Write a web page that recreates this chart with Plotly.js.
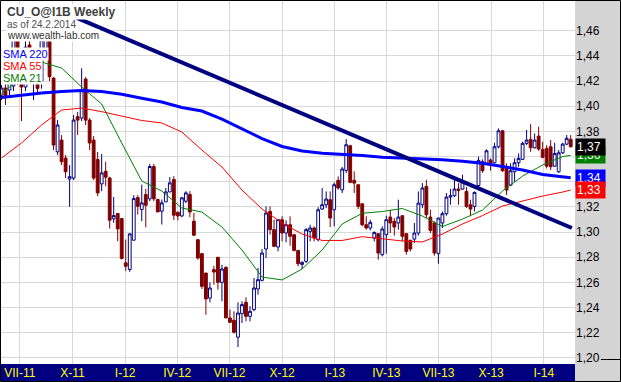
<!DOCTYPE html>
<html><head><meta charset="utf-8">
<script src="https://cdn.plot.ly/plotly-3.0.1.min.js"></script>
<style>html,body{margin:0;padding:0;background:#fff;overflow:hidden}#chart{width:621px;height:382px}</style>
</head><body><div id="chart"></div>
<script>
// ---- data (weekly bars, Monday-dated, first bar 2011-05-30) ----
const firstWeek = [2011, 4, 30];
const opens = [1.4089,1.4145,1.4129,1.4161,1.4526,1.4300,1.4153,1.4487,1.4200,1.4354,1.4200,1.4450,1.4526,1.4224,1.3638,1.3731,1.3588,1.3421,1.3429,1.3917,1.3906,1.4216,1.3890,1.3731,
1.3576,1.3383,1.3483,1.3430,1.3105,1.3147,1.3107,1.2755,1.2702,1.2935,1.3274,1.3179,1.3298,1.3264,1.3521,1.3258,1.3166,1.3240,1.3319,1.3417,1.3158,1.3128,1.3245,1.3298,
1.3086,1.2939,1.2828,1.2674,1.2475,1.2701,1.2799,1.2600,1.2719,1.2317,1.2298,1.2164,1.2351,1.2441,1.2330,1.2383,1.2547,1.2616,1.2865,1.3164,1.3019,1.2881,1.3098,1.2992,
1.3058,1.2979,1.2854,1.2743,1.2767,1.3005,1.3032,1.2939,1.3183,1.3217,1.3257,1.3177,1.3411,1.3336,1.3490,1.3686,1.3411,1.3376,1.3225,1.3058,1.3032,1.2952,1.2987,1.2820,
1.2979,1.3119,1.3085,1.3072,1.3130,1.2987,1.2934,1.2944,1.2992,1.3217,1.3363,1.3119,1.3072,1.2828,1.3072,1.3146,1.3278,1.3289,1.3342,1.3342,1.3323,1.3217,1.3204,1.3370,
1.3559,1.3546,1.3572,1.3551,1.3678,1.3805,1.3506,1.3373,1.3479,1.3551,1.3578,1.3705,1.3737,1.3670,1.3763,1.3657,1.3665,1.3678,1.3524,1.3479,1.3630,1.3699,1.3737];
const highs = [1.4169,1.4177,1.4224,1.4560,1.4560,1.4330,1.4520,1.4542,1.4380,1.4447,1.4550,1.4600,1.4560,1.4232,1.3890,1.3771,1.3612,1.3532,1.3930,1.3954,1.4302,1.4232,1.3906,1.3763,
1.3637,1.3621,1.3558,1.3440,1.3279,1.3150,1.3110,1.2940,1.2990,1.3293,1.3293,1.3377,1.3343,1.3542,1.3542,1.3265,1.3258,1.3351,1.3436,1.3444,1.3160,1.3277,1.3325,1.3325,
1.3152,1.2945,1.2830,1.2674,1.2600,1.2732,1.2799,1.2740,1.2727,1.2383,1.2370,1.2441,1.2449,1.2481,1.2410,1.2634,1.2714,1.2865,1.3204,1.3204,1.3098,1.3100,1.3125,1.3093,
1.3125,1.2979,1.2854,1.2767,1.3032,1.3058,1.3045,1.3198,1.3350,1.3323,1.3323,1.3395,1.3442,1.3517,1.3739,1.3694,1.3482,1.3376,1.3225,1.3125,1.3098,1.3005,1.2987,1.3045,
1.3130,1.3177,1.3111,1.3257,1.3130,1.2987,1.2939,1.3072,1.3323,1.3389,1.3416,1.3177,1.3085,1.3111,1.3164,1.3310,1.3342,1.3429,1.3389,1.3456,1.3358,1.3257,1.3323,1.3600,
1.3578,1.3657,1.3586,1.3710,1.3824,1.3811,1.3546,1.3546,1.3586,1.3625,1.3718,1.3811,1.3858,1.3784,1.3837,1.3718,1.3691,1.3731,1.3710,1.3652,1.3710,1.3771,1.3771];
const lows = [1.4049,1.4010,1.4089,1.4120,1.4169,1.3882,1.4120,1.4250,1.4049,1.4089,1.4140,1.4400,1.4200,1.3652,1.3612,1.3532,1.3429,1.3201,1.3413,1.3771,1.3882,1.3851,1.3652,1.3413,
1.3285,1.3325,1.3364,1.3028,1.3073,1.2927,1.2781,1.2689,1.2683,1.2935,1.3139,1.3086,1.3038,1.3245,1.3245,1.3160,1.3060,1.3240,1.3319,1.3094,1.3094,1.3118,1.3230,1.3118,
1.2967,1.2780,1.2547,1.2343,1.2441,1.2581,1.2542,1.2449,1.2317,1.2277,1.2193,1.2086,1.2277,1.2290,1.2290,1.2370,1.2502,1.2608,1.2793,1.2979,1.2886,1.2846,1.2926,1.2918,
1.2891,1.2846,1.2727,1.2706,1.2754,1.2926,1.2926,1.2926,1.3177,1.3191,1.3040,1.3045,1.3336,1.3310,1.3469,1.3389,1.3310,1.3183,1.3045,1.3019,1.3013,1.2926,1.2780,1.2807,
1.2828,1.2992,1.2971,1.3019,1.2926,1.2820,1.2846,1.2913,1.2971,1.3191,1.3111,1.2992,1.2812,1.2748,1.3032,1.3130,1.3217,1.3278,1.3217,1.3336,1.3191,1.3125,1.3164,1.3350,
1.3471,1.3540,1.3487,1.3546,1.3665,1.3479,1.3294,1.3365,1.3400,1.3519,1.3572,1.3691,1.3638,1.3665,1.3646,1.3586,1.3506,1.3493,1.3519,1.3471,1.3620,1.3691,1.3673];
const closes = [1.4145,1.4081,1.4192,1.4542,1.4216,1.4153,1.4470,1.4250,1.4340,1.4142,1.4526,1.4560,1.4235,1.3692,1.3851,1.3559,1.3479,1.3440,1.3890,1.3890,1.4129,1.3890,1.3708,1.3429,
1.3311,1.3470,1.3436,1.3094,1.3131,1.3025,1.2790,1.2728,1.2985,1.3266,1.3205,1.3232,1.3213,1.3521,1.3264,1.3160,1.3232,1.3319,1.3391,1.3134,1.3128,1.3272,1.3311,1.3160,
1.2975,1.2793,1.2568,1.2468,1.2555,1.2682,1.2600,1.2706,1.2317,1.2282,1.2203,1.2356,1.2423,1.2330,1.2370,1.2555,1.2621,1.2833,1.3151,1.3019,1.2886,1.3098,1.2992,1.3058,
1.2966,1.2854,1.2748,1.2759,1.3019,1.3032,1.2952,1.3177,1.3217,1.3262,1.3111,1.3376,1.3350,1.3501,1.3694,1.3395,1.3389,1.3204,1.3058,1.3032,1.3077,1.2997,1.2833,1.3024,
1.3098,1.3072,1.3040,1.3119,1.2966,1.2846,1.2865,1.2992,1.3230,1.3350,1.3138,1.3013,1.2833,1.3111,1.3146,1.3278,1.3289,1.3342,1.3331,1.3403,1.3204,1.3183,1.3315,1.3570,
1.3487,1.3646,1.3546,1.3678,1.3805,1.3487,1.3334,1.3487,1.3551,1.3586,1.3705,1.3731,1.3670,1.3731,1.3660,1.3594,1.3524,1.3519,1.3625,1.3630,1.3699,1.3745,1.3678];

const smaWeekIdx = [0,5,10,15,20,25,30,35,40,45,50,55,60,65,70,75,80,85,90,95,100,105,110,115,120,125,130,135,140,142];
const sma220 = [1.4069,1.4087,1.4105,1.4117,1.4125,1.4117,1.4095,1.4063,1.4034,1.3990,1.3962,1.3898,1.3823,1.3743,1.3680,1.3644,1.3626,1.3618,1.3608,1.3594,1.3588,1.3584,1.3575,1.3563,1.3547,1.3521,1.3493,1.3457,1.3437,1.3432];
const sma55  = [1.3588,1.3708,1.3851,1.3970,1.3986,1.3957,1.3922,1.3887,1.3867,1.3795,1.3652,1.3517,1.3334,1.3183,1.3072,1.2984,1.2933,1.2933,1.2963,1.2945,1.2929,1.2921,1.2984,1.3064,1.3131,1.3207,1.3247,1.3286,1.3318,1.3334];
const sma21  = [1.4105,1.4224,1.4352,1.4304,1.4153,1.4018,1.3708,1.3406,1.3326,1.3191,1.3159,1.3040,1.2857,1.2642,1.2619,1.2706,1.2857,1.3064,1.3149,1.3163,1.3187,1.3127,1.3044,1.3103,1.3175,1.3326,1.3445,1.3533,1.3600,1.3610];

const trendDates = ['2011-09-23','2014-02-19'];
const trendValues = [1.4733, 1.3032];

const tickDates = ['2011-07-01','2011-10-01','2012-01-01','2012-04-01','2012-07-01','2012-10-01','2013-01-01','2013-04-01','2013-07-01','2013-10-01','2014-01-01'];
const tickLabels = ['VII-11','X-11','I-12','IV-12','VII-12','X-12','I-13','IV-13','VII-13','X-13','I-14'];
const priceTicks = [1.20,1.22,1.24,1.26,1.28,1.30,1.32,1.34,1.36,1.38,1.40,1.42,1.44,1.46];
const priceTickText = ['1,20','1,22','1,24','1,26','1,28','1,30','1,32','','','1,38','1,40','1,42','1,44','1,46'];

// ---- build ----
const weekDates = opens.map((_, i) => new Date(Date.UTC(firstWeek[0], firstWeek[1], firstWeek[2]) + i * 7 * 86400000).toISOString().slice(0, 10));
const smaDates = smaWeekIdx.map(i => weekDates[i]);

const W = 621, H = 382, ML = 1, MR = 46, MT = 1, MB = 18;
const PW = W - ML - MR, PH = H - MT - MB;
const px = v => (v - ML) / PW;
const py = v => (H - MB - v) / PH;
const FONT = 'Liberation Sans, Arial, sans-serif';

const traces = [
  {type: 'candlestick', x: weekDates, open: opens, high: highs, low: lows, close: closes,
   increasing: {line: {color: '#000080', width: 1}, fillcolor: '#ffffff'},
   decreasing: {line: {color: '#800000', width: 1}, fillcolor: '#800000'},
   whiskerwidth: 0, hoverinfo: 'skip', showlegend: false},
  {type: 'scatter', mode: 'lines', x: smaDates, y: sma55, line: {color: '#ff0000', width: 1}, hoverinfo: 'skip', showlegend: false},
  {type: 'scatter', mode: 'lines', x: smaDates, y: sma21, line: {color: '#008000', width: 1}, hoverinfo: 'skip', showlegend: false},
  {type: 'scatter', mode: 'lines', x: smaDates, y: sma220, line: {color: '#0000ff', width: 3}, hoverinfo: 'skip', showlegend: false},
  {type: 'scatter', mode: 'lines', x: trendDates, y: trendValues, line: {color: '#000080', width: 4}, hoverinfo: 'skip', showlegend: false}
];

const fmt = v => v.toFixed(2).replace('.', ',');
const lastBox = (val, bg) => ({xref: 'paper', yref: 'y', x: 1, y: val, xanchor: 'left', yanchor: 'middle',
  text: fmt(val), showarrow: false, bgcolor: bg, borderpad: 1, width: 27, align: 'left',
  font: {family: FONT, size: 12, color: '#ffffff'}});
const label = (text, x, y, size, color, bold) => ({xref: 'paper', yref: 'paper', x: px(x), y: py(y),
  xanchor: 'left', yanchor: 'top', showarrow: false, text: bold ? '<b>' + text + '</b>' : text,
  borderpad: 0, bgcolor: '#ffffff', font: {family: FONT, size: size, color: color}});

const layout = {
  width: W, height: H,
  margin: {l: ML, r: MR, t: MT, b: MB, pad: 0, autoexpand: false},
  paper_bgcolor: '#d4d4d4', plot_bgcolor: '#ffffff',
  separators: ',.',
  showlegend: false, hovermode: false, boxgap: 0.3, boxgroupgap: 0,
  xaxis: {type: 'date', range: ['2011-05-29 05:00', '2014-02-24 12:00'],
    tickmode: 'array', tickvals: tickDates, ticktext: tickLabels,
    showgrid: true, gridcolor: '#d8d8d8', gridwidth: 1, zeroline: false, showline: false,
    ticks: '', tickfont: {family: FONT, size: 12, color: '#ffff00'},
    rangeslider: {visible: false}, fixedrange: true},
  yaxis: {side: 'right', range: [1.19507, 1.4837], tickmode: 'array', tickvals: priceTicks, ticktext: priceTickText,
    showgrid: true, gridcolor: '#d8d8d8', gridwidth: 1, zeroline: false,
    showline: false, ticks: '', tickfont: {family: FONT, size: 12, color: '#000000'}, fixedrange: true},
  shapes: [
    {type: 'rect', xref: 'paper', yref: 'paper', x0: px(0), x1: px(575), y0: py(381), y1: py(364),
     fillcolor: '#000080', line: {width: 0}, layer: 'below'},
    {type: 'line', xref: 'paper', yref: 'paper', x0: px(601), x1: px(620), y0: py(359.5), y1: py(359.5),
     line: {color: '#000000', width: 1}, layer: 'above'},
    {type: 'rect', xref: 'paper', yref: 'paper', x0: px(0.5), x1: px(620.5), y0: py(381.5), y1: py(0.5),
     fillcolor: 'rgba(0,0,0,0)', line: {color: '#000000', width: 1}, layer: 'above'}
  ],
  annotations: [
    label('CU_O@I1B Weekly', 6, 4, 12, '#404040', true),
    label('as of 24.2.2014', 6, 18, 10, '#505050', false),
    label('www.wealth-lab.com', 6, 29, 10, '#303030', false),
    label('SMA 220', 2, 47, 11, '#0000ff', false),
    label('SMA 55', 2, 59, 11, '#ff0000', false),
    label('SMA 21', 2, 71, 11, '#008000', false),
    lastBox(sma21[sma21.length - 1], '#008000'),
    lastBox(closes[closes.length - 1], '#000000'),
    lastBox(sma220[sma220.length - 1], '#0000ff'),
    lastBox(sma55[sma55.length - 1], '#ff0000')
  ]
};

Plotly.newPlot('chart', traces, layout, {staticPlot: true, displayModeBar: false});
</script></body></html>
